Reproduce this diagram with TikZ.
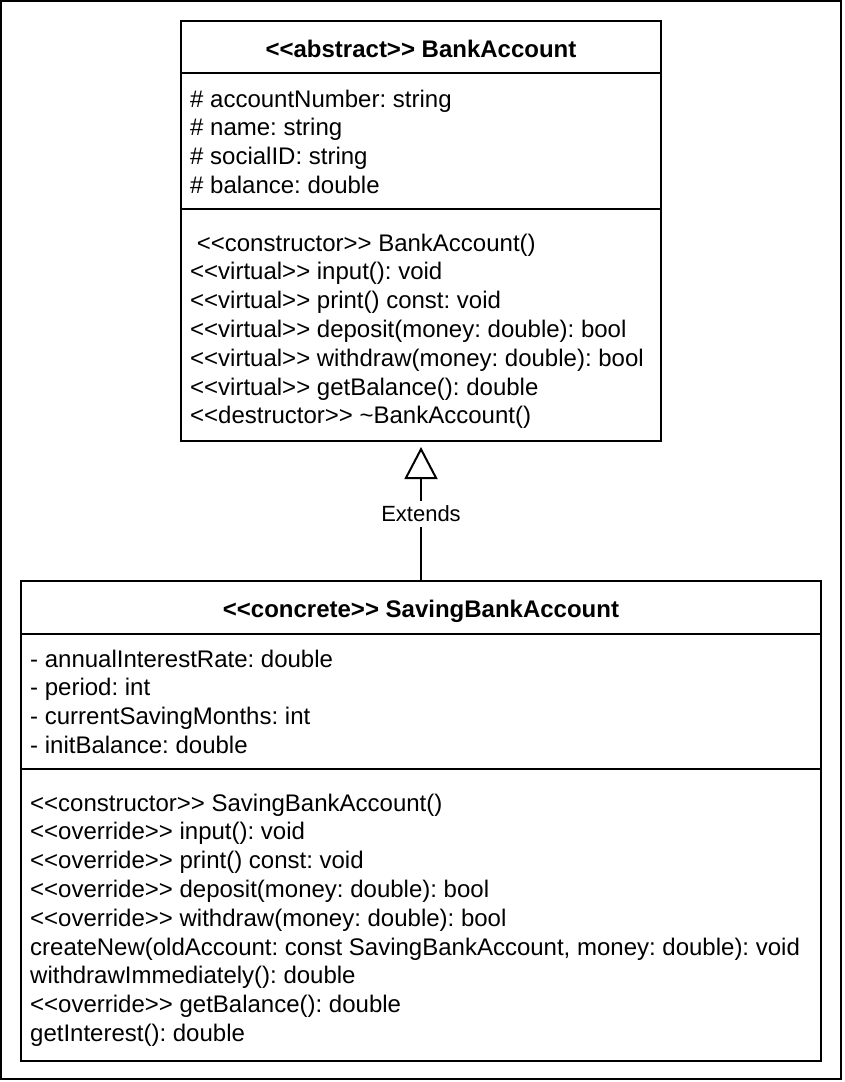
\documentclass[tikz,border=0pt]{standalone}
\usepackage{fontspec}
\setmainfont{Liberation Sans}[Ligatures=TeXOff]
\usetikzlibrary{arrows.meta}
\frenchspacing
\newcommand\stereo[1]{\textless\textless #1\textgreater\textgreater}
\begin{document}
\begin{tikzpicture}[x=1pt,y=-1pt,
  frame/.style={draw, line width=2pt, inner sep=0pt, outer sep=0pt, anchor=north west},
  box/.style={draw, line width=2pt, inner sep=0pt, outer sep=0pt, anchor=north west},
  txt/.style={anchor=base west, inner sep=0pt, font=\frenchspacing\fontsize{24}{28.8}\selectfont},
  ttl/.style={anchor=base, inner sep=0pt, font=\frenchspacing\fontsize{24}{28.8}\selectfont\bfseries},
  sep/.style={line width=2pt},
  lbl/.style={fill=white, inner xsep=2pt, inner ysep=5pt, font=\fontsize{22}{26.4}\selectfont},
  ext/.style={line width=2pt, -{Triangle[open, length=32pt, width=33pt]}}
  ]
\useasboundingbox (0,0) rectangle (844,1082);
\node[frame, minimum width=840pt, minimum height=1078pt] (outer) at (1,1) {};

% BankAccount
\node[box, minimum width=480pt, minimum height=420pt] (ba) at (181,21) {};
\draw[sep] (181,73) -- (661,73);
\draw[sep] (181,209) -- (661,209);
\node[ttl] (batitle) at (421,57.5) {\stereo{abstract} BankAccount};
\node[txt] (ba1) at (190,107) {\# accountNumber: string};
\node[txt] (ba2) at (190,135.8) {\# name: string};
\node[txt] (ba3) at (190,164.6) {\# socialID: string};
\node[txt] (ba4) at (190,193.4) {\# balance: double};
\node[txt] (bm1) at (190,251) {\ \stereo{constructor} BankAccount()};
\node[txt] (bm2) at (190,279.8) {\stereo{virtual} input(): void};
\node[txt] (bm3) at (190,308.6) {\stereo{virtual} print() const: void};
\node[txt] (bm4) at (190,337.4) {\stereo{virtual} deposit(money: double): bool};
\node[txt] (bm5) at (190,366.2) {\stereo{virtual} withdraw(money: double): bool};
\node[txt] (bm6) at (190,395) {\stereo{virtual} getBalance(): double};
\node[txt] (bm7) at (190,423.8) {\stereo{destructor} \textasciitilde BankAccount()};

% SavingBankAccount
\node[box, minimum width=800pt, minimum height=480pt] (sav) at (21,581) {};
\draw[sep] (21,633.5) -- (821,633.5);
\draw[sep] (21,769) -- (821,769);
\node[ttl] (savtitle) at (421,617.5) {\stereo{concrete} SavingBankAccount};
\node[txt] (sa1) at (30,667) {- annualInterestRate: double};
\node[txt] (sa2) at (30,695.8) {- period: int};
\node[txt] (sa3) at (30,724.6) {- currentSavingMonths: int};
\node[txt] (sa4) at (30,753.4) {- initBalance: double};
\node[txt] (sm1) at (30,811) {\stereo{constructor} SavingBankAccount()};
\node[txt] (sm2) at (30,839.8) {\stereo{override} input(): void};
\node[txt] (sm3) at (30,868.6) {\stereo{override} print() const: void};
\node[txt] (sm4) at (30,897.4) {\stereo{override} deposit(money: double): bool};
\node[txt] (sm5) at (30,926.2) {\stereo{override} withdraw(money: double): bool};
\node[txt] (sm6) at (30,955) {createNew(oldAccount: const SavingBankAccount, money: double): void};
\node[txt] (sm7) at (30,983.8) {withdrawImmediately(): double};
\node[txt] (sm8) at (30,1012.6) {\stereo{override} getBalance(): double};
\node[txt] (sm9) at (30,1041.4) {getInterest(): double};

% Generalization
\coordinate (tip) at ([yshift=-6pt]ba.south);
\draw[ext] (sav.north) -- node[lbl] (extlbl) {Extends} (tip);
\end{tikzpicture}
\end{document}
